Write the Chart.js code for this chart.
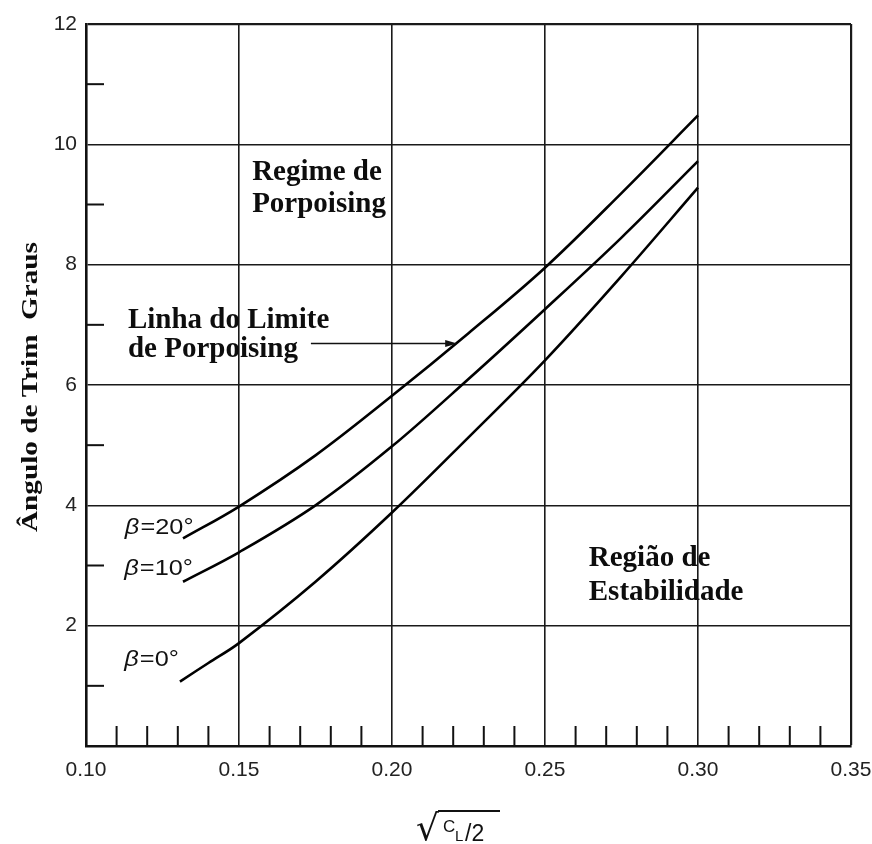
<!DOCTYPE html>
<html>
<head>
<meta charset="utf-8">
<script src="https://cdn.jsdelivr.net/npm/chart.js@4/dist/chart.umd.min.js"></script>
<style>
  html, body { margin: 0; padding: 0; background: #fff; }
</style>
</head>
<body>
<canvas id="trimChart" width="872" height="844"></canvas>
<script>
// curve data: sqrt(CL/2) vs trim angle (deg)
const betaLabels = ['β=20°', 'β=10°', 'β=0°'];
const x20 = [0.1317, 0.15, 0.175, 0.20, 0.225, 0.25, 0.275, 0.30];
const y20 = [3.45, 3.98, 4.83, 5.82, 6.86, 7.95, 9.19, 10.48];
const x10 = [0.1317, 0.15, 0.175, 0.20, 0.225, 0.25, 0.275, 0.30];
const y10 = [2.73, 3.22, 4.00, 4.98, 6.10, 7.26, 8.45, 9.72];
const x0 = [0.1307, 0.14, 0.15, 0.175, 0.20, 0.225, 0.25, 0.275, 0.30];
const y0 = [1.07, 1.38, 1.71, 2.73, 3.88, 5.13, 6.41, 7.81, 9.28];

// axes
const xTicks = [0.10, 0.15, 0.20, 0.25, 0.30, 0.35];
const yTicks = [2, 4, 6, 8, 10, 12];
const xMinorTicks = [0.11, 0.12, 0.13, 0.14, 0.16, 0.17, 0.18, 0.19, 0.21, 0.22, 0.23, 0.24,
                     0.26, 0.27, 0.28, 0.29, 0.31, 0.32, 0.33, 0.34];
const yMinorTicks = [1, 3, 5, 7, 9, 11];

// labels placed in data coordinates (baselines for the notes)
const betaLabelX = [0.1127, 0.1125, 0.1125];
const betaLabelY = [3.62, 2.95, 1.43];
const noteLines = [['Regime de', 'Porpoising'], ['Linha do Limite', 'de Porpoising'], ['Região de', 'Estabilidade']];
const noteX = [0.1543, 0.1137, 0.2643];
const noteY = [[9.41, 8.87], [6.95, 6.46], [3.0, 2.42]];
const arrowX = [0.1735, 0.2213];
const arrowY = 6.69;

const toPts = (xs, ys) => xs.map((x, i) => ({ x: x, y: ys[i] }));

function stretchText(ctx, text, x, y, font, sx, align, base) {
  ctx.save();
  ctx.font = font;
  ctx.textBaseline = base || 'middle';
  ctx.textAlign = align || 'left';
  ctx.translate(x, y);
  ctx.scale(sx, 1);
  ctx.fillText(text, 0, 0);
  ctx.restore();
}

const extras = {
  id: 'extras',
  afterDraw(chart) {
    const ctx = chart.ctx;
    const xs = chart.scales.x, ys = chart.scales.y;
    const area = chart.chartArea;
    ctx.save();
    ctx.strokeStyle = '#111';
    ctx.fillStyle = '#111';
    ctx.lineWidth = 2;

    // inward minor ticks
    xMinorTicks.forEach(v => {
      const px = xs.getPixelForValue(v);
      ctx.beginPath(); ctx.moveTo(px, area.bottom); ctx.lineTo(px, area.bottom - 20); ctx.stroke();
    });
    yMinorTicks.forEach(v => {
      const py = ys.getPixelForValue(v);
      ctx.beginPath(); ctx.moveTo(area.left, py); ctx.lineTo(area.left + 18, py); ctx.stroke();
    });

    // arrow pointing to the limit line
    const ax0 = xs.getPixelForValue(arrowX[0]), ax1 = xs.getPixelForValue(arrowX[1]);
    const ay = ys.getPixelForValue(arrowY);
    ctx.lineWidth = 1.5;
    ctx.beginPath(); ctx.moveTo(ax0, ay); ctx.lineTo(ax1 - 6, ay); ctx.stroke();
    ctx.beginPath(); ctx.moveTo(ax1, ay); ctx.lineTo(ax1 - 12, ay - 3.5); ctx.lineTo(ax1 - 12, ay + 3.5); ctx.closePath(); ctx.fill();

    // beta labels
    betaLabels.forEach((t, i) => {
      const px = xs.getPixelForValue(betaLabelX[i]);
      const py = ys.getPixelForValue(betaLabelY[i]);
      ctx.save();
      ctx.translate(px, py);
      ctx.scale(1.15, 1);
      ctx.textBaseline = 'middle';
      ctx.textAlign = 'left';
      ctx.font = 'italic 22px "Liberation Sans"';
      ctx.fillText('β', 0, 0);
      const w = ctx.measureText('β').width;
      ctx.font = '22px "Liberation Sans"';
      ctx.fillText(t.slice(1), w + 1, 0);
      ctx.restore();
    });

    // region notes
    ctx.fillStyle = '#0d0d0d';
    noteLines.forEach((lines, i) => {
      const px = xs.getPixelForValue(noteX[i]);
      lines.forEach((t, j) => {
        stretchText(ctx, t, px, ys.getPixelForValue(noteY[i][j]), 'bold 29px "Liberation Serif"', 1, 'left', 'alphabetic');
      });
    });

    // y title
    ctx.save();
    ctx.translate(31, (area.top + area.bottom) / 2 + 2);
    ctx.rotate(-Math.PI / 2);
    stretchText(ctx, 'Ângulo de Trim  Graus', 0, 0, 'bold 23px "Liberation Serif"', 1.27, 'center');
    ctx.restore();

    // x title: sqrt(CL/2)
    ctx.fillStyle = '#111';
    ctx.strokeStyle = '#111';
    ctx.textBaseline = 'alphabetic';
    ctx.textAlign = 'left';
    ctx.font = '36px "DejaVu Sans"';
    const rx = 416, rBase = 840;
    ctx.fillText('√', rx, rBase);
    const m = ctx.measureText('√');
    const topY = rBase - m.actualBoundingBoxAscent + 1;
    const topX = rx + m.actualBoundingBoxRight - 1;
    ctx.lineWidth = 1.8;
    ctx.beginPath(); ctx.moveTo(topX, topY); ctx.lineTo(500, topY); ctx.stroke();
    ctx.font = '17px "Liberation Sans"';
    ctx.fillText('C', topX + 5, topY + 21);
    ctx.font = '15px "Liberation Sans"';
    ctx.fillText('L', topX + 17, topY + 30);
    ctx.font = '23px "Liberation Sans"';
    ctx.fillText('/2', topX + 27, topY + 30);
    ctx.restore();
  }
};

const ctx = document.getElementById('trimChart').getContext('2d');
const curveStyle = {
  showLine: true, borderColor: '#000', borderWidth: 2.6, pointRadius: 0,
  tension: 0.35, fill: false
};

new Chart(ctx, {
  type: 'scatter',
  data: {
    datasets: [
      Object.assign({ label: betaLabels[0], data: toPts(x20, y20) }, curveStyle),
      Object.assign({ label: betaLabels[1], data: toPts(x10, y10) }, curveStyle),
      Object.assign({ label: betaLabels[2], data: toPts(x0, y0) }, curveStyle)
    ]
  },
  options: {
    responsive: false,
    animation: false,
    devicePixelRatio: 1,
    layout: { padding: { top: 24, right: 0, left: 0, bottom: 0 } },
    plugins: { legend: { display: false }, tooltip: { enabled: false } },
    scales: {
      x: {
        type: 'linear', min: 0.10, max: 0.35,
        afterFit: s => { s.height = 98; s.paddingRight = 21; },
        afterBuildTicks: s => { s.ticks = xTicks.map(v => ({ value: v })); },
        grid: {
          color: '#1a1a1a',
          lineWidth: c => (c.tick && c.tick.value > 0.34) ? 2.2 : 1.6,
          drawTicks: false
        },
        border: { color: '#111', width: 2.6 },
        ticks: {
          padding: 12, color: '#222',
          font: { family: 'Liberation Sans', size: 21 },
          callback: v => v.toFixed(2)
        }
      },
      y: {
        type: 'linear', min: 0, max: 12,
        afterFit: s => { s.width = 86; },
        afterBuildTicks: s => { s.ticks = [0].concat(yTicks).map(v => ({ value: v })); },
        grid: {
          color: '#1a1a1a',
          lineWidth: c => (c.tick && c.tick.value === 12) ? 2.2 : 1.6,
          drawTicks: false
        },
        border: { color: '#111', width: 2.6 },
        ticks: {
          padding: 9, color: '#222',
          font: { family: 'Liberation Sans', size: 21 },
          callback: v => v === 0 ? '' : String(v)
        }
      }
    }
  },
  plugins: [extras]
});
</script>
</body>
</html>
